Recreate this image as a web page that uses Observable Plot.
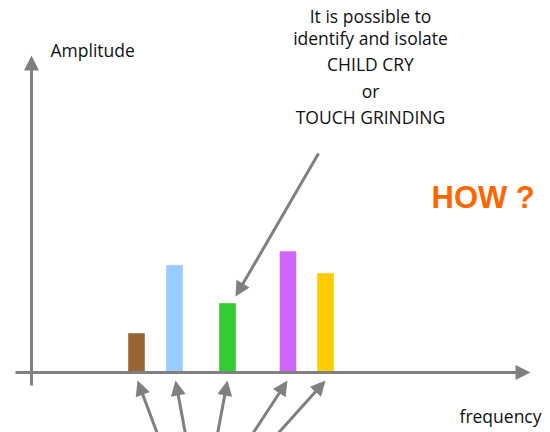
<!DOCTYPE html>
<html>
<head>
<meta charset="utf-8">
<script src="https://cdn.jsdelivr.net/npm/d3@7"></script>
<script src="https://cdn.jsdelivr.net/npm/@observablehq/plot@0.6"></script>
<style>
  html, body { margin: 0; padding: 0; background: #fff; overflow: hidden; }
</style>
</head>
<body>
<div id="chart"></div>
<script>
// ---- data ----
const frequencies = [10.55, 14.35, 19.65, 25.7, 29.45];
const amplitudes  = [1.3, 3.57, 2.3, 4.03, 3.3];
const barColors   = ["#996633", "#99CCFF", "#33CC33", "#CC66FF", "#FFCC00"];

// pointer arrows from below (start -> tip), data units
const pointerStartX = [12.6, 15.4, 18.6, 22.1, 24.6];
const pointerStartY = [-2.05, -2.05, -2.05, -2.05, -2.05];
const pointerTipX   = [10.6, 14.4, 19.6, 25.6, 29.4];
const pointerTipY   = [-0.27, -0.27, -0.27, -0.27, -0.27];

// callout arrow from text to the green bar
const calloutStart = [28.7, 7.3];
const calloutTip   = [20.4, 2.53];

// axes (start -> tip)
const axisStartX = [0, -1.6];
const axisStartY = [-0.43, 0];
const axisTipX   = [0, 49.9];
const axisTipY   = [10.57, 0];

const noteLines = ["It is possible to", "identify and isolate", "CHILD CRY", "or", "TOUCH GRINDING"];
const noteLineY = [11.83, 11.1, 10.23, 9.33, 8.47];

// ---- scales ----
const xCfg = {domain: [-3.1, 51.9], range: [0, 550]};
const yCfg = {domain: [-2, 12.4], range: [432, 0]};
const xs = Plot.scale({x: xCfg});
const ys = Plot.scale({y: yCfg});

const bars = frequencies.map((f, i) => ({f, a: amplitudes[i], k: i}));
const barHalf = 0.85;

// build arrows
const arrowDefs = [];
for (let i = 0; i < axisStartX.length; i++) arrowDefs.push({x1: axisStartX[i], y1: axisStartY[i], x2: axisTipX[i], y2: axisTipY[i]});
for (let i = 0; i < pointerTipX.length; i++) arrowDefs.push({x1: pointerStartX[i], y1: pointerStartY[i], x2: pointerTipX[i], y2: pointerTipY[i]});
arrowDefs.push({x1: calloutStart[0], y1: calloutStart[1], x2: calloutTip[0], y2: calloutTip[1]});

const HEAD = 15;
const arrows = arrowDefs.map(d => {
  const px1 = xs.apply(d.x1), py1 = ys.apply(d.y1);
  const px2 = xs.apply(d.x2), py2 = ys.apply(d.y2);
  const dx = px2 - px1, dy = py2 - py1;
  const len = Math.hypot(dx, dy);
  const bx = px2 - dx / len * (HEAD - 2), by = py2 - dy / len * (HEAD - 2);
  return {
    ...d,
    bx: xs.invert(bx), by: ys.invert(by),
    angle: Math.atan2(dx, -dy) * 180 / Math.PI
  };
});

const gray = "#808080";
const font = "'Open Sans', 'Noto Sans', sans-serif";
const fs = 17.5;

const chart = Plot.plot({
  width: 550,
  height: 432,
  margin: 0,
  x: {...xCfg, axis: null},
  y: {...yCfg, axis: null},
  color: {domain: d3.range(barColors.length), range: barColors},
  style: {fontFamily: font, background: "#fff", color: "#111"},
  marks: [
    Plot.rectY(bars, {x1: d => d.f - barHalf, x2: d => d.f + barHalf, y1: 0, y2: "a", fill: "k", stroke: "#fff", strokeOpacity: 0.5, strokeWidth: 0.8}),
    Plot.link(arrows, {x1: "x1", y1: "y1", x2: "bx", y2: "by", stroke: gray, strokeWidth: 3}),
    Plot.vector(arrows, {x: "x2", y: "y2", rotate: "angle", length: HEAD, r: 7.5, shape: "spike", anchor: "end", fill: gray, stroke: "none"}),
    Plot.text(noteLines, {x: 33.9, y: (d, i) => noteLineY[i], text: d => d, fontSize: fs, textAnchor: "middle", fill: "#111"}),
    Plot.text(["Amplitude"], {x: 1.9, y: 10.7, text: d => d, fontSize: fs, textAnchor: "start", fill: "#111"}),
    Plot.text(["frequency"], {x: 42.8, y: -1.5, text: d => d, fontSize: fs, textAnchor: "start", fill: "#111"}),
    Plot.text(["HOW ?"], {x: 40, y: 5.8, text: d => d, fontSize: 31, fontWeight: "bold", fontFamily: "'Liberation Sans', Arial, sans-serif", textAnchor: "start", fill: "#FF6600"})
  ]
});
document.getElementById("chart").appendChild(chart);
</script>
</body>
</html>
